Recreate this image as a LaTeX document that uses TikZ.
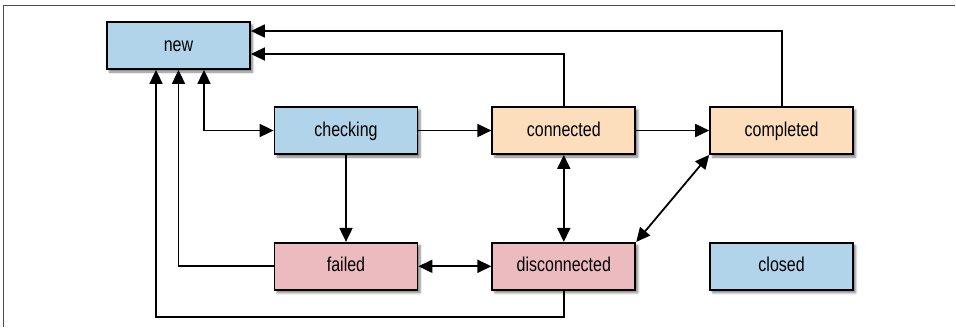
\documentclass[tikz,border=0pt]{standalone}
\usepackage{fontspec}
\setmainfont{Liberation Sans}[FakeStretch=0.8]
\usepackage{tikz}
\usetikzlibrary{arrows.meta, positioning, shadows.blur}
\definecolor{stBlue}{HTML}{B1D4EA}
\definecolor{stOrange}{HTML}{FDDEBC}
\definecolor{stPink}{HTML}{ECBBBF}

\begin{document}
\begin{tikzpicture}[
    state/.style={draw, line width=1.8pt, minimum width=143pt, minimum height=47pt, inner sep=0pt,
        font=\fontsize{20}{22}\selectfont, text height=14pt, text depth=3pt,
        blur shadow={shadow xshift=2.5pt, shadow yshift=-3pt, shadow blur steps=6, shadow opacity=50}},
    idle/.style={state, fill=stBlue},
    live/.style={state, fill=stOrange},
    down/.style={state, fill=stPink},
    arr/.style={-{Triangle[length=14pt, width=13pt]}, line width=1.8pt},
    dbl/.style={{Triangle[length=14pt, width=13pt]}-{Triangle[length=14pt, width=13pt]}, line width=1.8pt},
    node distance=87pt and 73pt
]
    \useasboundingbox (0,0) rectangle (956pt,-327pt);
    % frame
    \draw[black!70, line width=0.8pt] (3pt,-327pt) -- (3pt,-5pt) -- (955pt,-5pt);

    % states
    \node[idle] (new) at (178.5pt,-45.5pt) {new};
    \node[idle] (checking) at (346pt,-130.5pt) {checking};
    \node[live, right=of checking] (connected) {connected};
    \node[live, right=of connected] (completed) {completed};
    \node[down, below=of checking] (failed) {failed};
    \node[down, below=of connected] (disconnected) {disconnected};
    \node[idle, below=of completed] (closed) {closed};

    % forward
    \draw[dbl] ([xshift=25.5pt]new.south) |- (checking.west);
    \draw[arr] (checking) -- (connected);
    \draw[arr] (connected) -- (completed);
    \draw[arr] (checking) -- (failed);
    \draw[dbl] (failed) -- (disconnected);
    \draw[dbl] (connected) -- (disconnected);
    \draw[dbl] (disconnected.north east) -- (completed.south west);

    % back to new
    \draw[arr] (completed.north) |- ([yshift=14.5pt]new.east);
    \draw[arr] (connected.north) |- ([yshift=-8.5pt]new.east);
    \draw[arr] (failed.west) -| (new.south);
    \coordinate (dloop) at ([yshift=-26pt]disconnected.south);
    \draw[arr] (disconnected.south) -- (dloop) -| ([xshift=-22.5pt]new.south);
\end{tikzpicture}
\end{document}
